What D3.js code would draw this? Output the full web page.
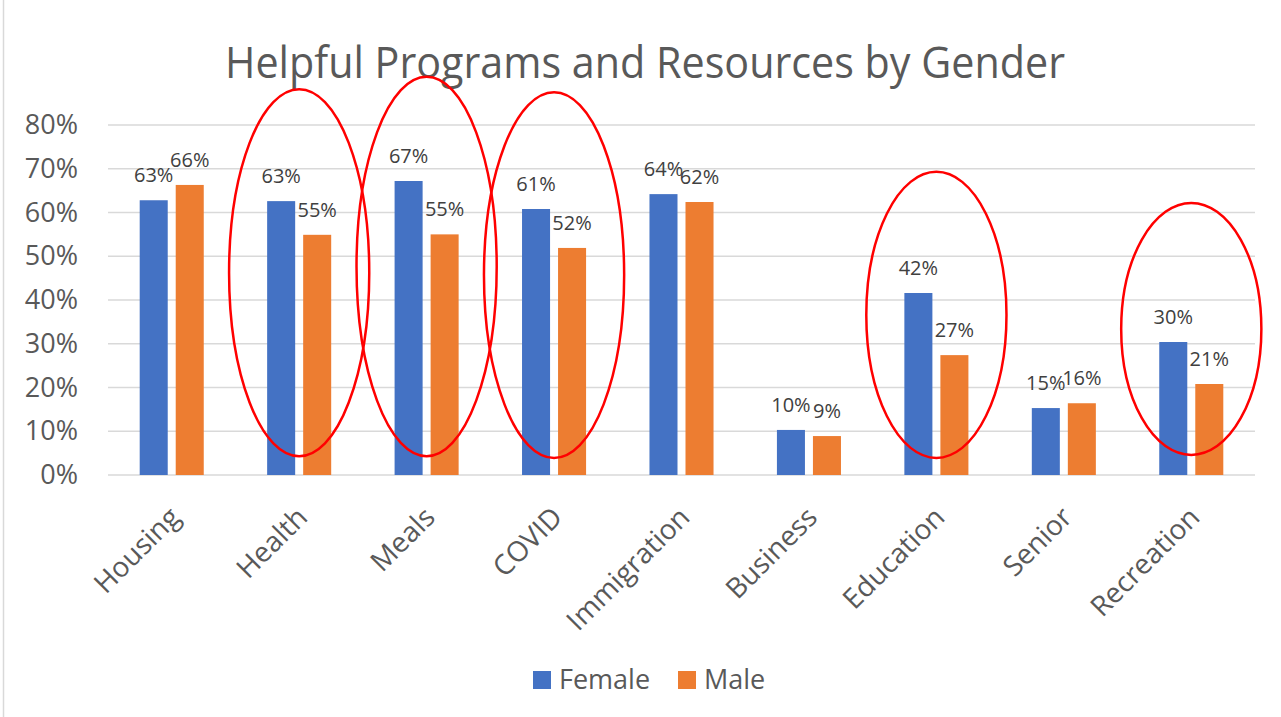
<!DOCTYPE html>
<html>
<head>
<meta charset="utf-8">
<script src="https://cdn.jsdelivr.net/npm/d3@7"></script>
<style>
  html, body { margin: 0; padding: 0; background: #fff; }
  svg { display: block; font-family: 'Open Sans', sans-serif; }
</style>
</head>
<body>
<div id="chart"></div>
<script>
const WIDTH = 1281;
const HEIGHT = 717;

// chart data
const categories = ['Housing', 'Health', 'Meals', 'COVID', 'Immigration', 'Business', 'Education', 'Senior', 'Recreation'];
const seriesNames = ['Female', 'Male'];
const female = [0.628, 0.626, 0.672, 0.608, 0.642, 0.103, 0.416, 0.153, 0.304];
const male = [0.663, 0.549, 0.550, 0.519, 0.624, 0.089, 0.274, 0.164, 0.208];
const yTicks = [0, 0.1, 0.2, 0.3, 0.4, 0.5, 0.6, 0.7, 0.8];

// red circles drawn over the chart (top / bottom in axis units)
const circled = ['Health', 'Meals', 'COVID', 'Education', 'Recreation'];
const circleTop = [0.882, 0.91, 0.875, 0.693, 0.622];
const circleBottom = [0.043, 0.043, 0.039, 0.039, 0.046];

const colors = { Female: '#4472c4', Male: '#ed7d31' };

const margin = { left: 108, right: 26, top: 125, bottom: 242 };

const svg = d3.select('#chart')
  .append('svg')
  .attr('width', WIDTH)
  .attr('height', HEIGHT);

// chart frame
svg.append('line')
  .attr('x1', 3.5).attr('x2', 3.5)
  .attr('y1', 0).attr('y2', HEIGHT)
  .attr('stroke', '#d9d9d9').attr('stroke-width', 1.5);

const x = d3.scaleBand()
  .domain(categories)
  .range([margin.left, WIDTH - margin.right]);

const xInner = d3.scaleBand()
  .domain(seriesNames)
  .range([0, x.bandwidth()])
  .paddingInner(0.222)
  .paddingOuter(0.88);

const y = d3.scaleLinear()
  .domain([0, 0.8])
  .range([HEIGHT - margin.bottom, margin.top]);

// gridlines
svg.append('g')
  .selectAll('line')
  .data(yTicks)
  .enter()
  .append('line')
  .attr('x1', margin.left)
  .attr('x2', WIDTH - margin.right)
  .attr('y1', d => y(d))
  .attr('y2', d => y(d))
  .attr('stroke', '#d9d9d9')
  .attr('stroke-width', 1.5);

// y axis labels
const yAxis = svg.append('g')
  .attr('transform', `translate(${margin.left - 30},0)`)
  .call(d3.axisLeft(y).tickValues(yTicks).tickFormat(d3.format('.0%')).tickSize(0));
yAxis.select('.domain').remove();
yAxis.selectAll('text')
  .attr('x', 0)
  .attr('fill', '#595959')
  .style('font-size', '27px')
  .style('font-family', 'Open Sans');

// x axis labels (rotated)
const xAxis = svg.append('g')
  .attr('transform', `translate(0,${HEIGHT - margin.bottom})`)
  .call(d3.axisBottom(x).tickSize(0));
xAxis.select('.domain').remove();
xAxis.selectAll('text')
  .attr('fill', '#595959')
  .style('font-size', '28px')
  .style('font-family', 'Open Sans')
  .attr('text-anchor', 'end')
  .attr('dy', 0)
  .attr('y', 0)
  .attr('transform', 'translate(10,44) rotate(-45)');

// bars
const rows = categories.map((c, i) => ({ category: c, values: [
  { name: 'Female', value: female[i] },
  { name: 'Male', value: male[i] }
] }));

const groups = svg.append('g')
  .selectAll('g')
  .data(rows)
  .enter()
  .append('g')
  .attr('transform', d => `translate(${x(d.category)},0)`);

groups.selectAll('rect')
  .data(d => d.values)
  .enter()
  .append('rect')
  .attr('x', d => xInner(d.name))
  .attr('width', xInner.bandwidth())
  .attr('y', d => y(d.value))
  .attr('height', d => y(0) - y(d.value))
  .attr('fill', d => colors[d.name]);

groups.selectAll('text')
  .data(d => d.values)
  .enter()
  .append('text')
  .attr('x', d => xInner(d.name) + xInner.bandwidth() / 2)
  .attr('y', d => y(d.value) - 18)
  .attr('text-anchor', 'middle')
  .attr('fill', '#404040')
  .style('font-size', '20px')
  .text(d => d3.format('.0%')(d.value));

// title
svg.append('text')
  .attr('x', 645)
  .attr('y', 78)
  .attr('text-anchor', 'middle')
  .attr('fill', '#595959')
  .style('font-size', '44px')
  .attr('textLength', 840)
  .attr('lengthAdjust', 'spacingAndGlyphs')
  .text('Helpful Programs and Resources by Gender');

// legend
const legend = svg.append('g')
  .attr('transform', 'translate(533,671)');
const legendX = [0, 145];
seriesNames.forEach((name, i) => {
  const item = legend.append('g').attr('transform', `translate(${legendX[i]},0)`);
  item.append('rect')
    .attr('width', 18).attr('height', 18)
    .attr('fill', colors[name]);
  item.append('text')
    .attr('x', 26)
    .attr('y', 18)
    .attr('fill', '#595959')
    .style('font-size', '27px')
    .text(name);
});

// red highlight ellipses
svg.append('g')
  .selectAll('ellipse')
  .data(circled)
  .enter()
  .append('ellipse')
  .attr('cx', d => x(d) + x.bandwidth() / 2)
  .attr('cy', (d, i) => (y(circleTop[i]) + y(circleBottom[i])) / 2)
  .attr('rx', x.bandwidth() * 0.55)
  .attr('ry', (d, i) => (y(circleBottom[i]) - y(circleTop[i])) / 2)
  .attr('fill', 'none')
  .attr('stroke', '#ff0000')
  .attr('stroke-width', 2.5);
</script>
</body>
</html>
